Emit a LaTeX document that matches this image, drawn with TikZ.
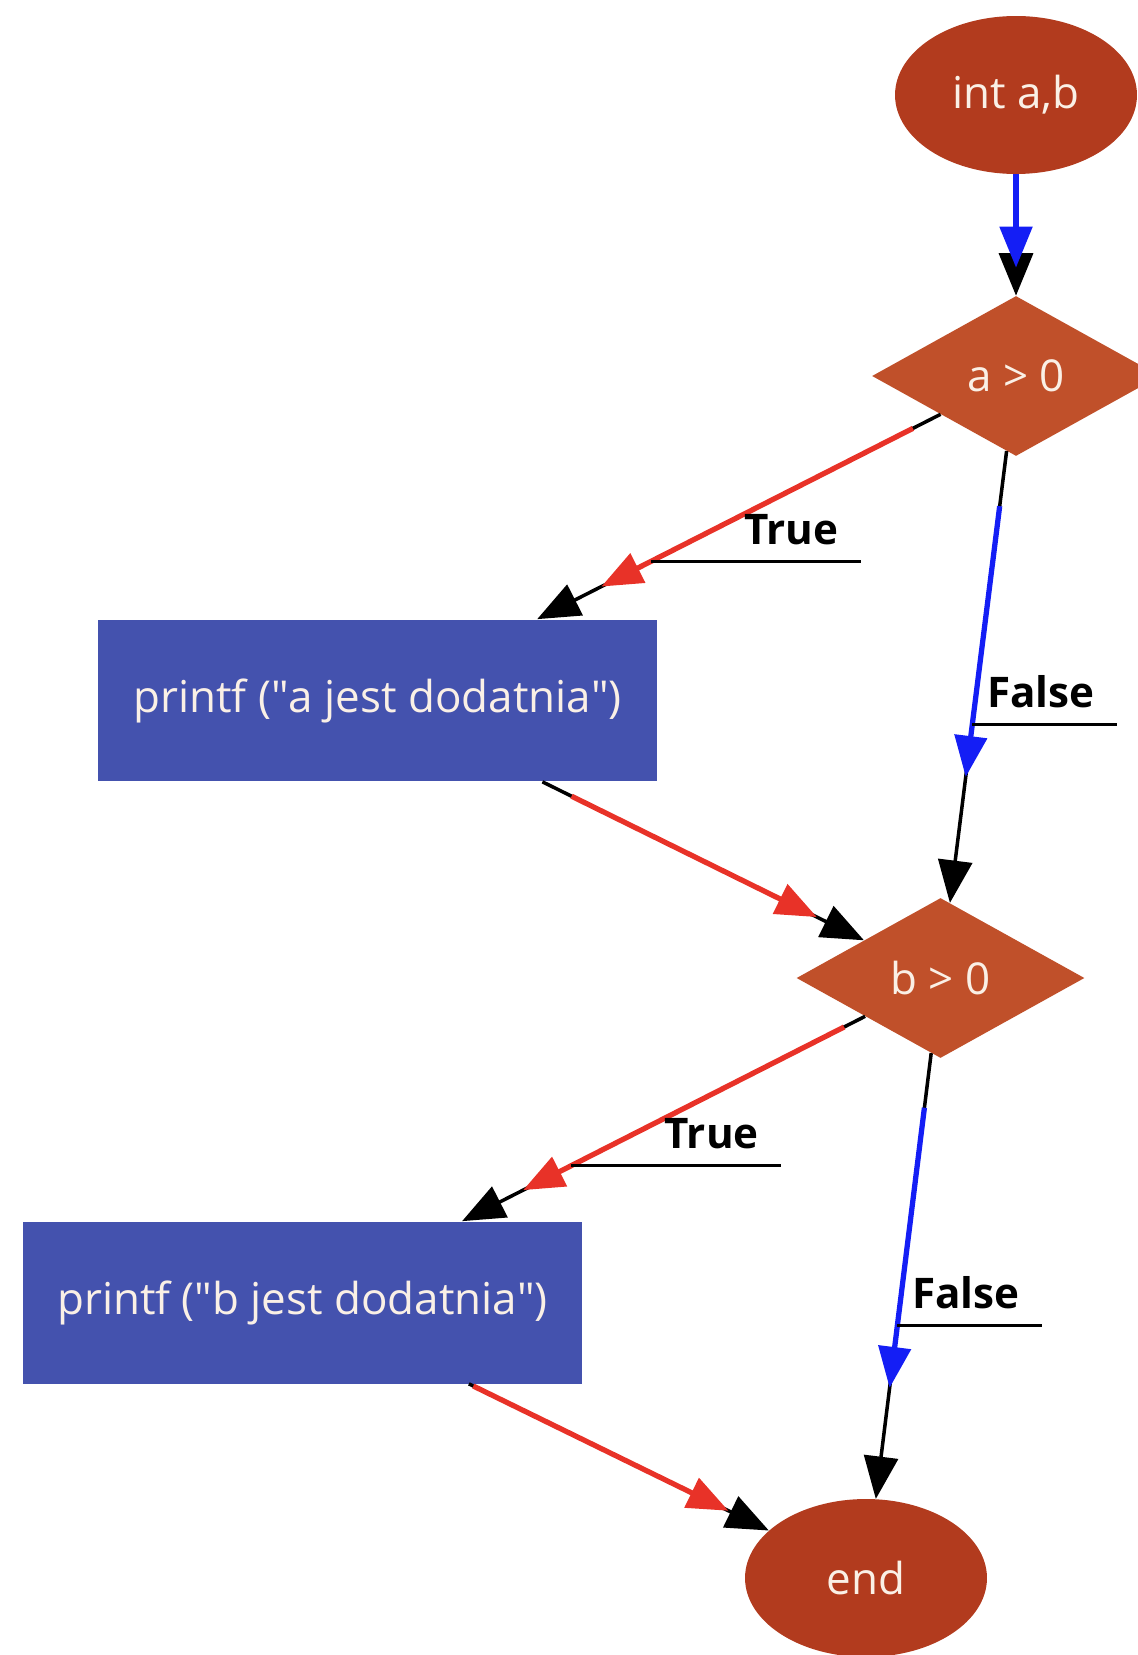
\documentclass[tikz,border=0pt]{standalone}
\usepackage{fontspec}
\setmainfont{Open Sans}
\usetikzlibrary{positioning,arrows.meta,shapes.geometric}
\definecolor{termfill}{RGB}{178,59,30}
\definecolor{condfill}{RGB}{192,80,42}
\definecolor{stmtfill}{RGB}{68,82,174}
\definecolor{nodetext}{RGB}{250,240,230}
\definecolor{trueline}{RGB}{232,50,40}
\definecolor{falseline}{RGB}{20,30,245}
\tikzset{
  terminal/.style={ellipse, fill=termfill, text=nodetext, minimum width=4.84cm, minimum height=3.16cm, inner sep=0pt},
  decision/.style={diamond, fill=condfill, text=nodetext, minimum width=5.76cm, minimum height=3.2cm, inner sep=0pt},
  stmtbox/.style={rectangle, fill=stmtfill, text=nodetext, minimum width=11.18cm, minimum height=3.24cm, inner sep=0pt},
  flowarrow/.style={-{Triangle[length=0.85cm,width=0.68cm]}, line width=2pt, black},
  trueflow/.style={-{Triangle[length=0.82cm,width=0.64cm]}, line width=3pt, trueline},
  falseflow/.style={-{Triangle[length=0.82cm,width=0.64cm]}, line width=3pt, falseline},
  edgelabel/.style={font=\fontsize{24}{28}\selectfont\bfseries, anchor=south west, inner xsep=0.44cm, inner ysep=0.32cm},
  labelrule/.style={line width=1.8pt}
}

\begin{document}
\begin{tikzpicture}[x=0.02cm, y=-0.02cm, every node/.style={font=\fontsize{25}{30}\selectfont}]
  \useasboundingbox (0,0) rectangle (1138,1655);
  \node[terminal] (start) at (1016,95) {int a,b};
  \node[decision] (cond1) at (1016,376) {a > 0};
  \node[stmtbox] (print1) at (377.5,700.5) {printf (\textquotedbl a jest dodatnia\textquotedbl)};
  \node[decision] (cond2) at (940.5,978) {b > 0};
  \node[stmtbox] (print2) at (302.5,1302.5) {printf (\textquotedbl b jest dodatnia\textquotedbl)};
  \node[terminal] (stop) at (866,1578) {end};

  \draw[flowarrow] (start) -- (cond1);
  \draw[flowarrow] (cond1) -- coordinate[pos=0.718] (yes1) (print1);
  \draw[flowarrow] (cond1) -- coordinate[pos=0.6055] (no1) (cond2);
  \draw[flowarrow] (print1) -- (cond2);
  \draw[flowarrow] (cond2) -- coordinate[pos=0.729] (yes2) (print2);
  \draw[flowarrow] (cond2) -- coordinate[pos=0.611] (no2) (stop);
  \draw[flowarrow] (print2) -- (stop);

  \draw[falseflow, shorten >=0.56cm] (start) -- (cond1);
  \draw[trueflow, shorten <=0.62cm, shorten >=1.44cm] (cond1) -- (print1);
  \draw[falseflow, shorten <=1.11cm, shorten >=2.54cm] (cond1) -- (cond2);
  \draw[trueflow, shorten <=0.65cm, shorten >=1.05cm] (print1) -- (cond2);
  \draw[trueflow, shorten <=0.47cm, shorten >=1.37cm] (cond2) -- (print2);
  \draw[falseflow, shorten <=1.1cm, shorten >=2.24cm] (cond2) -- (stop);
  \draw[trueflow, shorten <=0.1cm, shorten >=0.9cm] (print2) -- (stop);

  \node[edgelabel, xshift=1.42cm] (yes1lbl) at (yes1) {True};
  \draw[labelrule] (yes1) -- (yes1 -| yes1lbl.south east);
  \node[edgelabel, xshift=-0.15cm] (no1lbl) at (no1) {False};
  \draw[labelrule] (no1) -- (no1 -| no1lbl.south east);
  \node[edgelabel, xshift=1.42cm] (yes2lbl) at (yes2) {True};
  \draw[labelrule] (yes2) -- (yes2 -| yes2lbl.south east);
  \node[edgelabel, xshift=-0.15cm] (no2lbl) at (no2) {False};
  \draw[labelrule] (no2) -- (no2 -| no2lbl.south east);
\end{tikzpicture}
\end{document}
